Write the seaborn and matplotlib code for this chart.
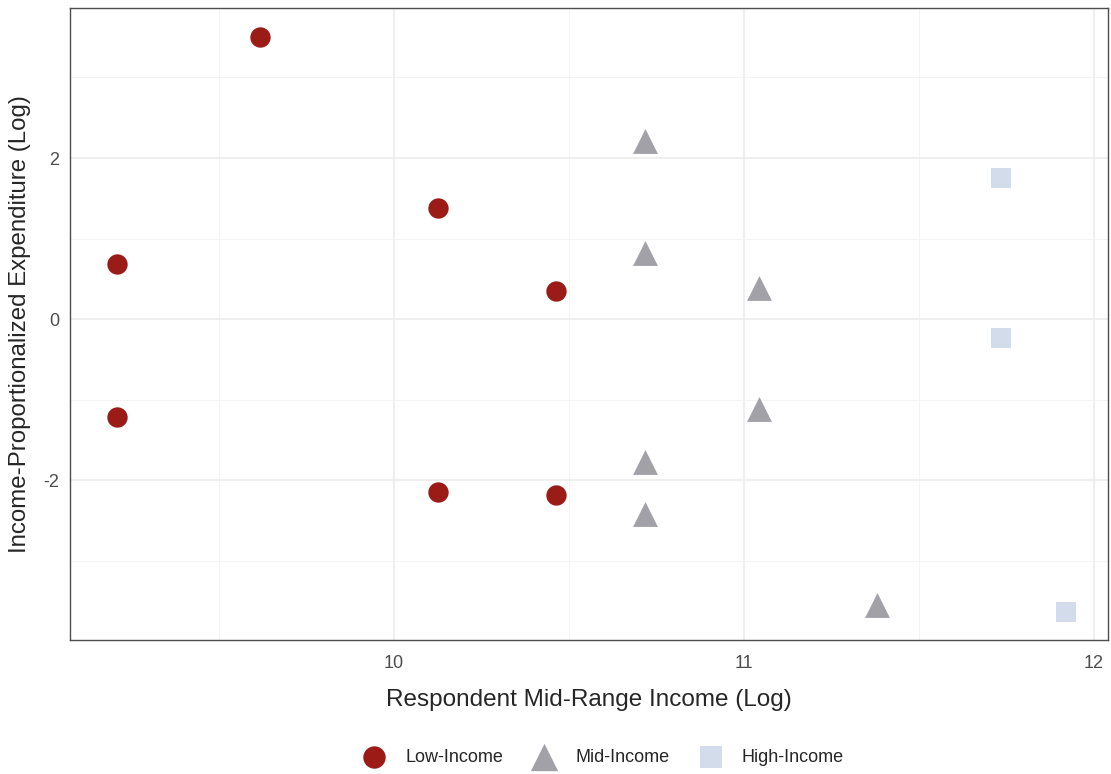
import matplotlib.pyplot as plt
import numpy as np
import pandas as pd
import seaborn as sns

# data
low_x = [9.618, 9.210, 9.210, 10.126, 10.126, 10.465, 10.465]
low_y = [3.503, 0.683, -1.217, 1.379, -2.137, 0.348, -2.186]
mid_x = [10.719, 10.719, 11.044, 11.044, 10.719, 10.719, 11.381]
mid_y = [2.210, 0.820, 0.385, -1.118, -1.776, -2.410, -3.540]
high_x = [11.735, 11.735, 11.92]
high_y = [1.752, -0.236, -3.627]

groups = ["Low-Income", "Mid-Income", "High-Income"]
colors = {"Low-Income": "#9b1c17", "Mid-Income": "#a2a1a8", "High-Income": "#d2dcea"}
markers = {"Low-Income": "o", "Mid-Income": "^", "High-Income": "s"}
msize = {"Low-Income": 215, "Mid-Income": 320, "High-Income": 210}

df = pd.concat([
    pd.DataFrame({"x": low_x, "y": low_y, "group": groups[0]}),
    pd.DataFrame({"x": mid_x, "y": mid_y, "group": groups[1]}),
    pd.DataFrame({"x": high_x, "y": high_y, "group": groups[2]}),
])

sns.set_style("white")
plt.rcParams['font.family'] = ['Liberation Sans', 'DejaVu Sans']
plt.rcParams['axes.unicode_minus'] = False

fig = plt.figure(figsize=(11.11, 7.74), dpi=100)
ax = fig.add_axes([0.063, 0.173, 0.934, 0.8165])

for g in groups:
    sub = df[df.group == g]
    sns.scatterplot(data=sub, x="x", y="y", color=colors[g], marker=markers[g],
                    s=msize[g], linewidth=0, ax=ax, label=g, zorder=3)

ax.set_xlim(9.075, 12.04)
ax.set_ylim(-3.98, 3.86)
ax.set_xticks([10, 11, 12])
ax.set_yticks([-2, 0, 2])
ax.set_xticks(np.arange(9.5, 12.0, 1.0), minor=True)
ax.set_yticks([-3, -1, 1, 3], minor=True)
ax.grid(True, which="major", color="#ebebeb", linewidth=1.1, zorder=0)
ax.grid(True, which="minor", color="#f2f2f2", linewidth=0.6, zorder=0)
ax.set_axisbelow(True)
ax.tick_params(axis="both", which="major", length=4, color="#333333",
               labelsize=13, labelcolor="#4d4d4d", direction="out")
ax.tick_params(axis="x", which="major", pad=7)
ax.tick_params(axis="both", which="minor", length=0)
for sp in ax.spines.values():
    sp.set_color("#4d4d4d")
    sp.set_linewidth(1.0)

ax.set_xlabel("Respondent Mid-Range Income (Log)", fontsize=17.5, labelpad=12)
ax.set_ylabel("Income-Proportionalized Expenditure (Log)", fontsize=17.3, labelpad=9)

ax.legend().remove()
handles, labels = ax.get_legend_handles_labels()
fig.legend(handles, labels, loc="center", bbox_to_anchor=(600 / 1111, 1 - 757 / 774),
           ncol=3, frameon=False, fontsize=13, handletextpad=0.7, columnspacing=1.3,
           markerscale=1.1)

fig.savefig("out.png", dpi=100)
